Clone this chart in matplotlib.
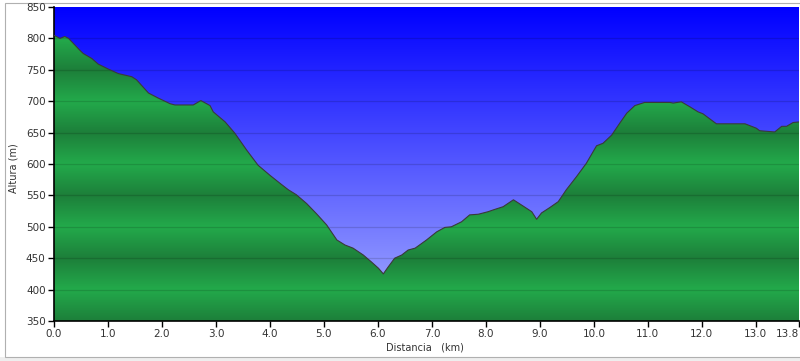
import matplotlib
matplotlib.use("Agg")
import matplotlib.pyplot as plt
import numpy as np
from matplotlib.colors import LinearSegmentedColormap
from matplotlib.patches import Rectangle

# elevation profile (km, m)
dist_km = [0.0, 0.11, 0.2, 0.27, 0.48, 0.54, 0.70, 0.82, 1.01, 1.19, 1.44, 1.53,
           1.75, 1.93, 2.15, 2.24, 2.58, 2.72, 2.89, 2.95, 3.17, 3.35, 3.57, 3.78,
           4.0, 4.19, 4.34, 4.49, 4.68, 4.86, 5.05, 5.24, 5.39, 5.54, 5.73, 5.88,
           6.01, 6.10, 6.19, 6.31, 6.44, 6.56, 6.69, 6.90, 7.09, 7.24, 7.36, 7.55,
           7.70, 7.86, 8.04, 8.14, 8.32, 8.51, 8.69, 8.85, 8.94, 9.03, 9.19, 9.34,
           9.49, 9.68, 9.86, 10.05, 10.17, 10.33, 10.48, 10.61, 10.76, 10.94, 11.41,
           11.47, 11.62, 11.78, 11.93, 12.02, 12.27, 12.80, 13.01, 13.07, 13.35,
           13.48, 13.57, 13.69, 13.8]
alt_m = [805, 800, 803, 800, 781, 776, 768, 759, 751, 744, 739, 734,
         713, 705, 696, 694, 694, 701, 693, 683, 667, 649, 622, 598,
         582, 569, 559, 551, 537, 521, 503, 479, 471, 466, 455, 444,
         434, 425, 436, 450, 455, 463, 466, 479, 492, 499, 500, 508,
         519, 520, 524, 527, 532, 543, 533, 524, 512, 522, 531, 540,
         559, 580, 601, 629, 633, 646, 665, 681, 693, 698, 698,
         697, 699, 691, 683, 680, 664, 664, 657, 653, 651,
         660, 660, 666, 667]

x_ticks = [0.0, 1.0, 2.0, 3.0, 4.0, 5.0, 6.0, 7.0, 8.0, 9.0, 10.0, 11.0, 12.0, 13.0, 13.8]
y_ticks = [350, 400, 450, 500, 550, 600, 650, 700, 750, 800, 850]

x_min, x_max = 0.0, 13.8
y_min, y_max = 350, 850

fig = plt.figure(figsize=(8, 3.61), dpi=100)

# light frame like the original widget
fig.patches.append(Rectangle((0, 0), 1, 1 - 357 / 361, transform=fig.transFigure,
                             facecolor="#eeeeee", edgecolor="none", zorder=-2))
fig.patches.append(Rectangle((4.5 / 800, 1 - 356.5 / 361), 1, 354 / 361,
                             transform=fig.transFigure, facecolor="white",
                             edgecolor="#b0b0b0", lw=0.8, zorder=-1))

ax = fig.add_axes([54 / 800, 1 - 321 / 361, 745 / 800, 314 / 361])

# sky gradient
sky = LinearSegmentedColormap.from_list("sky", ["#a8b0ff", "#0000ff"])
grad = np.linspace(0, 1, 256).reshape(-1, 1)
ax.imshow(grad, cmap=sky, aspect="auto", origin="lower",
          extent=[x_min, x_max, y_min, y_max], zorder=0)

# green ground with repeating 100 m shading
greens = LinearSegmentedColormap.from_list("g", ["#1d7f3a", "#23aa4b", "#1d7f3a"])
yy = np.linspace(y_min, y_max, 600)
phase = ((yy - 350) % 100) / 100
ground = ax.imshow(phase.reshape(-1, 1), cmap=greens, aspect="auto", origin="lower",
                   extent=[x_min, x_max, y_min, y_max], zorder=1, vmin=0, vmax=1)
poly = ax.fill_between(dist_km, alt_m, y_min, color="none", lw=0)
ground.set_clip_path(poly.get_paths()[0], transform=ax.transData)

ax.plot(dist_km, alt_m, color="#3a3a3a", lw=0.8, zorder=3)

for v in y_ticks[1:-1]:
    ax.axhline(v, color="black", alpha=0.14, lw=0.9, zorder=2)

ax.set_xlim(x_min, x_max)
ax.set_ylim(y_min, y_max)
ax.set_xticks(x_ticks)
ax.set_xticklabels(["%.1f" % t for t in x_ticks])
ax.get_xticklabels()[-1].set_horizontalalignment("right")
ax.set_yticks(y_ticks)
ax.tick_params(direction="out", length=4, width=1, color="black",
               labelsize=7.5, labelcolor="#333333", pad=2)
for s in ["top", "right"]:
    ax.spines[s].set_visible(False)
for s in ["left", "bottom"]:
    ax.spines[s].set_color("black")
    ax.spines[s].set_linewidth(1.2)

fig.text(14 / 800, 1 - 168 / 361, "Altura (m)", rotation=90, fontsize=7,
         color="#333333", ha="center", va="center")
fig.text(425 / 800, 1 - 347 / 361, "Distancia   (km)", fontsize=7,
         color="#333333", ha="center", va="center")

plt.savefig("out.png", dpi=100)
